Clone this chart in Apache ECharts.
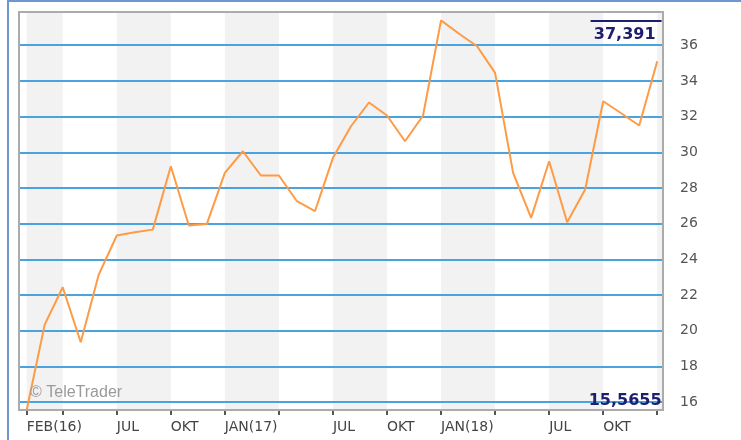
<!DOCTYPE html>
<html>
<head>
<meta charset="utf-8">
<script src="https://cdn.jsdelivr.net/npm/echarts@6/dist/echarts.min.js"></script>
<style>html,body{margin:0;padding:0;background:#fff;}#c{width:741px;height:440px;}</style>
</head>
<body>
<div id="c"></div>
<script>
// Monthly values, Feb 2016 (index 0) .. Jan 2019 (index 35)
const monthIndex = [0,1,2,3,4,5,6,7,8,9,10,11,12,13,14,15,16,17,18,19,20,21,22,23,24,25,26,27,28,29,30,31,32,33,34,35];
const prices = [15.5655,20.35,22.44,19.36,23.15,25.34,25.52,25.67,29.22,25.9,25.99,28.85,
                30.06,28.7,28.7,27.26,26.7,29.69,31.46,32.79,32.06,30.62,32.06,37.391,
                36.64,35.94,34.45,28.85,26.33,29.5,26.08,27.92,32.86,32.19,31.5,35.1];
const minValue = 15.5655;
const maxValue = 37.391;
const yTicks = [16,18,20,22,24,26,28,30,32,34,36];
const xTickValues = [0,2,5,8,11,14,17,20,23,26,29,32,35];
const xLabelValues = [0,5,8,11,17,20,23,29,32];
const xLabelTexts = ['FEB(16)','JUL','OKT','JAN(17)','JUL','OKT','JAN(18)','JUL','OKT'];
const shadedQuarters = [[0,2],[5,8],[11,14],[17,20],[23,26],[29,32],[35,35.32]];

const xMin = -0.427, xMax = 35.32;
const yMin = 15.5655, yMax = 37.86;

const fmt = v => String(v).replace('.', ',');

const chart = echarts.init(document.getElementById('c'), null, {renderer: 'canvas'});
chart.setOption({
  animation: false,
  backgroundColor: '#ffffff',
  grid: {left: 19, top: 12, width: 644, height: 398, show: false},
  xAxis: {
    type: 'value', min: xMin, max: xMax,
    axisLine: {show: false},
    splitLine: {show: false},
    axisTick: {show: true, customValues: xTickValues, length: 5, lineStyle: {color: '#555', width: 2}},
    axisLabel: {
      customValues: xLabelValues, align: 'left', margin: 10,
      color: '#444', fontSize: 14, fontFamily: 'DejaVu Sans',
      formatter: v => xLabelTexts[xLabelValues.indexOf(v)] || ''
    }
  },
  yAxis: {
    type: 'value', position: 'right', min: yMin, max: yMax,
    axisLine: {show: false},
    splitLine: {show: false},
    axisTick: {show: true, customValues: yTicks, length: 10, lineStyle: {color: '#777', width: 2}},
    axisLabel: {customValues: yTicks, margin: 17, color: '#555', fontSize: 14, fontFamily: 'DejaVu Sans'}
  },
  graphic: [
    {type: 'rect', z: 20, shape: {x: 8, y: 1, width: 780, height: 480}, style: {fill: 'none', stroke: '#6f97cf', lineWidth: 2}, silent: true},
    {type: 'rect', z: 20, shape: {x: 19, y: 12, width: 644, height: 398}, style: {fill: 'none', stroke: '#ababab', lineWidth: 2}, silent: true},
    {type: 'text', z: 20, left: 30, top: 385, style: {text: '© TeleTrader', fill: '#9a9a9a', font: '16px "Liberation Sans"'}, silent: true}
  ],
  series: [{
    type: 'line',
    data: monthIndex.map((m, i) => [m, prices[i]]),
    symbol: 'none',
    z: 3,
    lineStyle: {color: '#ff9a45', width: 2},
    markArea: {
      silent: true, z: 1,
      itemStyle: {color: '#f2f2f2'},
      data: shadedQuarters.map(b => [{xAxis: b[0]}, {xAxis: b[1]}])
    },
    markLine: {
      silent: true, z: 2, symbol: 'none',
      lineStyle: {color: '#4aa3df', width: 2, type: 'solid'},
      label: {show: false},
      data: yTicks.map(v => ({yAxis: v})).concat([
        [{coord: [31.3, maxValue], lineStyle: {color: '#1e1e70', width: 2, type: 'solid'},
          label: {show: true, position: 'insideEndBottom', formatter: fmt(maxValue), color: '#1e1e70', fontWeight: 'bold', fontSize: 16, fontFamily: 'DejaVu Sans', distance: 6}},
         {coord: [35.24, maxValue]}],
        [{coord: [30.4, minValue + 0.05], lineStyle: {color: 'rgba(0,0,0,0)', width: 1},
          label: {show: true, position: 'insideEndTop', formatter: fmt(minValue), color: '#1e1e70', fontWeight: 'bold', fontSize: 16, fontFamily: 'DejaVu Sans', distance: 0}},
         {coord: [35.24, minValue + 0.05]}]
      ])
    }
  }]
});
</script>
</body>
</html>
